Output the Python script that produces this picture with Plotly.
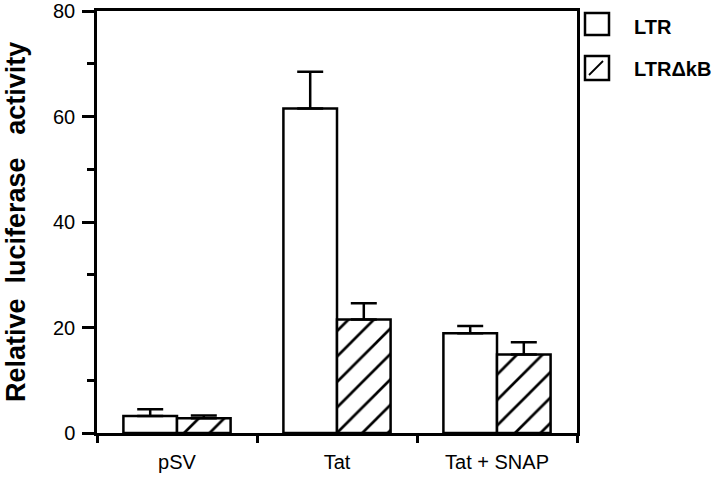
import plotly.graph_objects as go

categories = ["pSV", "Tat", "Tat + SNAP"]
series_names = ["LTR", "LTR\u0394kB"]
ltr_values = [3.2, 61.5, 18.9]
ltr_errors = [1.3, 7.0, 1.4]
dkb_values = [2.8, 21.5, 14.9]
dkb_errors = [0.5, 3.1, 2.3]
y_ticks = [0, 20, 40, 60, 80]
y_title = "Relative\u00a0\u00a0luciferase\u00a0\u00a0\u00a0activity"

FONT = "Liberation Sans, Arial, Helvetica, sans-serif"
LW = 2.5

W, H = 720, 478
L, T = 97, 11
R = W - 577
B = H - 433
pw, ph = W - L - R, H - T - B


def px(x_page):
    return (x_page - L) / pw


def py(y_page):
    return (T + ph - y_page) / ph


fig = go.Figure()
fig.add_trace(go.Bar(
    x=categories, y=ltr_values, name=series_names[0],
    marker=dict(color="white", line=dict(color="black", width=LW)),
    error_y=dict(type="data", symmetric=False, array=ltr_errors,
                 arrayminus=[0] * len(ltr_errors), color="black",
                 thickness=LW, width=13),
    showlegend=False,
))
fig.add_trace(go.Bar(
    x=categories, y=dkb_values, name=series_names[1],
    marker=dict(color="white", line=dict(color="black", width=LW),
                pattern=dict(shape="/", size=18, solidity=0.15, fgopacity=1,
                             fgcolor="#000000", bgcolor="#ffffff")),
    error_y=dict(type="data", symmetric=False, array=dkb_errors,
                 arrayminus=[0] * len(dkb_errors), color="black",
                 thickness=LW, width=13),
    showlegend=False,
))

shapes = [
    dict(type="rect", xref="paper", yref="paper",
         x0=px(585), x1=px(609), y0=py(35), y1=py(13),
         line=dict(color="black", width=LW), fillcolor="white"),
    dict(type="rect", xref="paper", yref="paper",
         x0=px(585), x1=px(609), y0=py(80), y1=py(56),
         line=dict(color="black", width=LW), fillcolor="white"),
    dict(type="line", xref="paper", yref="paper",
         x0=px(589), x1=px(603), y0=py(75), y1=py(61),
         line=dict(color="black", width=1.8)),
]
annotations = [
    dict(xref="paper", yref="paper", x=px(632), y=py(27), text="<b>%s</b>" % series_names[0],
         showarrow=False, xanchor="left", yanchor="middle",
         font=dict(family=FONT, size=20, color="black")),
    dict(xref="paper", yref="paper", x=px(632), y=py(69), text="<b>%s</b>" % series_names[1],
         showarrow=False, xanchor="left", yanchor="middle",
         font=dict(family=FONT, size=20, color="black")),
    dict(xref="paper", yref="paper", x=px(16), y=py(222), text="<b>%s</b>" % y_title,
         showarrow=False, xanchor="center", yanchor="middle", textangle=-90,
         font=dict(family=FONT, size=27, color="black")),
]

fig.update_layout(
    width=W, height=H,
    margin=dict(l=L, r=R, t=T, b=B, autoexpand=False),
    paper_bgcolor="white", plot_bgcolor="white",
    barmode="group", bargap=0.33, bargroupgap=0,
    font=dict(family=FONT, color="black"),
    shapes=shapes, annotations=annotations,
    xaxis=dict(
        range=[-0.5, 2.5], showline=True, linecolor="black", linewidth=LW,
        mirror=True, ticks="outside", tickson="boundaries", ticklen=7,
        tickwidth=LW, tickcolor="black", showgrid=False, automargin=False,
        ticklabelstandoff=9,
        tickfont=dict(family=FONT, size=20, color="black"),
    ),
    yaxis=dict(
        range=[0, 80], tickvals=y_ticks, showline=True, linecolor="black",
        linewidth=LW, mirror=True, ticks="outside", ticklen=12, tickwidth=LW,
        tickcolor="black", showgrid=False, zeroline=False, automargin=False,
        ticklabelstandoff=3, ticklabeloverflow="allow",
        tickfont=dict(family=FONT, size=20, color="black"),
        minor=dict(dtick=10, ticks="outside", ticklen=7, tickwidth=LW,
                   tickcolor="black", showgrid=False),
    ),
)

fig.write_html(
    "out.html",
    config={"displayModeBar": False},
    post_script="document.body.style.margin='0';document.body.style.overflow='hidden';",
)
